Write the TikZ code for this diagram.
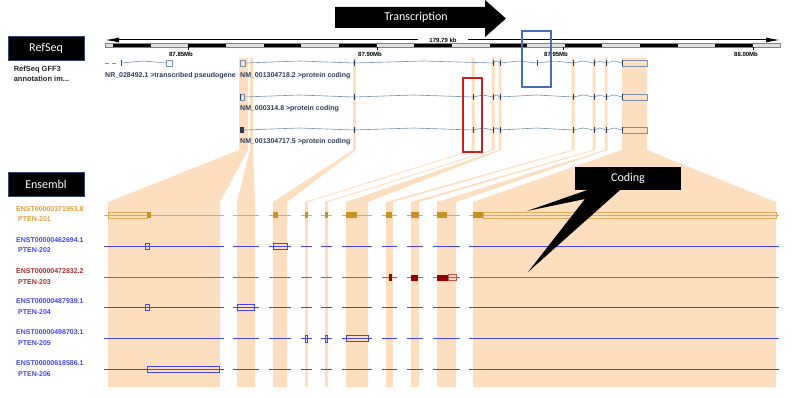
\documentclass[tikz,border=0pt]{standalone}
\usepackage{fontspec}
\setmainfont{Liberation Sans}
\newfontfamily\calibri{Carlito}
\usepackage{xcolor}
\usetikzlibrary{arrows.meta, positioning}

\definecolor{bandc}{RGB}{253,222,190}
\definecolor{tagedge}{RGB}{50,70,110}
\definecolor{refline}{RGB}{120,145,175}
\definecolor{refdark}{RGB}{45,60,85}
\definecolor{goldln}{RGB}{222,172,85}
\definecolor{goldfill}{RGB}{200,145,35}
\definecolor{goldtx}{RGB}{214,160,60}
\definecolor{blueln}{RGB}{70,70,230}
\definecolor{redln}{RGB}{190,80,80}
\definecolor{redfill}{RGB}{150,0,0}
\definecolor{redtx}{RGB}{165,45,45}
\definecolor{hired}{RGB}{205,30,30}
\definecolor{hiblue}{RGB}{70,110,185}
\definecolor{bargray}{RGB}{225,225,225}

\begin{document}
\begin{tikzpicture}[x=1pt, y=-1pt,
  band/.style={fill=bandc},
  tag/.style={fill=black, draw=tagedge, line width=0.8pt, minimum width=76pt,
              minimum height=24pt, inner sep=0pt, text=white,
              font=\calibri\fontsize{12}{14}\selectfont},
  info/.style={font=\fontsize{7.5}{10.5}\selectfont\bfseries, align=left,
              inner sep=0pt, text=black!85},
  mb/.style={font=\fontsize{6}{7}\selectfont\bfseries, inner sep=0pt, anchor=base},
  gene/.style={font=\fontsize{7}{8}\selectfont\bfseries, text=refdark,
              inner sep=0pt, anchor=base west},
  enst/.style={font=\fontsize{7}{8}\selectfont\bfseries, inner sep=0pt,
              anchor=base west, text=#1},
  intron/.style={draw=refline, line width=0.6pt},
  exon/.style={draw=refdark, line width=1pt},
  utr/.style={draw=refline, line width=0.7pt},
  track/.style={line width=1.3pt},
  hilite/.style={draw=#1, line width=2pt},
  arr/.style={-{Latex[length=14pt,width=5pt]}, line width=1pt}]
\useasboundingbox (0,0) rectangle (806,398);

% exon bands, refseq to ensembl
\foreach \ta/\tb/\ba/\bb in {239/248/108/220, 250/253/237/255, 353/356/273/287,
    471.5/474.5/305/308, 491.5/494.5/325/328, 498.5/501.5/346/368,
    571.5/574.5/386/393, 592.5/595.5/411/419, 604.5/607.5/437/456, 622/647/473/776}
  \fill[band] (\ta,58) -- (\tb,58) -- (\tb,150) -- (\bb,202) -- (\bb,387)
    -- (\ba,387) -- (\ba,202) -- (\ta,150) -- cycle;

% transcription arrow
\fill (335,7) -- (485,7) -- (485,0) -- (506,18.5) -- (485,37) -- (485,28) -- (335,28) -- cycle;
\node[text=white, font=\calibri\fontsize{12}{14}\selectfont] (transcription) at (416,17.5) {Transcription};

% scale bar
\coordinate (lend) at (105,40);
\coordinate (rend) at (780,40);
\node[mb, inner xsep=11pt] (kb) at (443,43) {179.79 kb};
\draw[arr] (kb.west |- lend) -- (lend);
\draw[arr] (kb.east |- rend) -- (rend);
\draw[draw=gray, fill=bargray, line width=0.5pt] (105,43.5) rectangle (780,47.5);
\foreach \k in {0,...,8}
  \fill (113+75.3*\k,44) rectangle ++(37.6,3);
\foreach \x/\lbl in {188/87.85Mb, 377/87.90Mb, 563/87.95Mb, 753/88.00Mb} {
  \draw[line width=0.6pt] (\x,47.5) -- (\x,50);
  \node[mb] (mb\x) at (\x-7,57) {\lbl};
}

% tags
\node[tag] (refseq) at (46,48) {RefSeq};
\node[info, below right=5pt and 6pt of refseq.south west] (refinfo) {RefSeq GFF3\\annotation im...};
\node[tag] (ensembl) at (46,184) {Ensembl};

% refseq transcripts
\draw[utr, dashed, dash pattern=on 4pt off 3pt] (105,63) -- (119,63);
\draw[exon] (121,60) -- (121,66);
\draw[intron] (121,63) -- (143,61) -- (166,63);
\draw[utr] (166,60) rectangle (172,66);
\node[gene] (nr) at (105,77.5) {NR\_028492.1 >transcribed pseudogene};

\draw[utr] (240,60) rectangle (245,66);
\foreach \a/\b in {245/354, 354/493, 493/500, 500/537, 537/573, 573/594, 594/606, 606/622}
  \draw[intron] (\a,63) -- ({(\a+\b)/2},61) -- (\b,63);
\foreach \x in {354,493,500,537,573,594,606}
  \draw[exon] (\x,60) -- (\x,66);
\node[gene] (nm718) at (240,77.5) {NM\_001304718.2 >protein coding};

\foreach \y in {97,130} {
  \foreach \a/\b in {244/354, 354/473, 473/493, 493/500, 500/573, 573/594, 594/606, 606/622}
    \draw[intron] (\a,\y) -- ({(\a+\b)/2},\y-2) -- (\b,\y);
  \foreach \x in {354,473,493,500,573,594,606}
    \draw[exon] (\x,\y-3) -- (\x,\y+3);
}
\draw[utr] (240,94) rectangle (244,100);
\draw[exon] (240.5,94) -- (240.5,100);
\fill[refdark] (240,127) rectangle (243.5,133);
\node[gene] (nm314) at (240,110.5) {NM\_000314.8 >protein coding};
\node[gene] (nm717) at (240,143.5) {NM\_001304717.5 >protein coding};
\foreach \y in {63,97,130} {
  \draw[utr] (622,\y-3) rectangle (647,\y+3);
  \draw[exon] (622,\y-3) -- (622,\y+3);
}

% ensembl transcripts
\begin{scope}[yshift=-0.5pt]
\foreach \y/\trk in {215/goldln, 246/blueln, 277/redln, 307/blueln, 338/blueln, 369/blueln} {
  \foreach \a/\b in {104/224, 233/259, 269/291, 301/312, 321/332, 342/372,
                     382/397, 407/423, 433/460, 469/779} {
    \draw[track, draw=\trk] (\a,\y) -- (\b,\y);
  }
}

% PTEN-201
\draw[goldln, line width=0.8pt] (108,212) rectangle (147,218);
\draw[goldln, line width=0.8pt] (483,212) rectangle (776,218);
\foreach \a/\b in {147/150.5, 273/278, 305/307.5, 325/327.5, 346/357, 386/392,
                   411/419, 437/447, 473/483}
  \fill[goldfill] (\a,212) rectangle (\b,218);
% PTEN-202
\draw[blueln, line width=0.8pt] (145,243) rectangle (149,249);
\draw[blueln, line width=0.8pt] (273,243) rectangle (287,249);
% PTEN-203
\fill[redfill] (389,273.5) rectangle (391.5,280.5);
\fill[redfill] (411,274) rectangle (418,280);
\fill[redfill] (437,274) rectangle (448,280);
\draw[redln, line width=0.8pt] (448,274) rectangle (456,280);
% PTEN-204
\draw[blueln, line width=0.8pt] (145,304) rectangle (149,310);
\draw[blueln, line width=0.8pt] (237,304) rectangle (254,310);
% PTEN-205
\draw[blueln, line width=0.8pt] (305,334.5) rectangle (307.5,341.5);
\draw[blueln, line width=0.8pt] (325,334.5) rectangle (327.5,341.5);
\draw[blueln, line width=0.8pt] (346,335) rectangle (368,341);
% PTEN-206
\draw[blueln, line width=0.8pt] (147,366) rectangle (219,372);
\end{scope}

\foreach \y/\id/\nm/\tc in {215/00000371953.8/201/goldtx, 246/00000462694.1/202/blueln,
    277/00000472832.2/203/redtx, 307/00000487939.1/204/blueln,
    338/00000498703.1/205/blueln, 369/00000618586.1/206/blueln} {
  \node[enst=\tc] (enst\nm) at (16,\y-3.5) {ENST\id};
  \node[enst=\tc] (pten\nm) at (18,\y+7) {PTEN-\nm};
}

% coding callout
\node[fill=black, text=white, minimum width=106pt, minimum height=23pt, inner sep=0pt,
      font=\calibri\fontsize{12}{14}\selectfont] (coding) at (628,178.5) {Coding};
\coordinate (tipa) at (527,211);
\coordinate (tipb) at (528,272);
\fill ([xshift=12pt]coding.south west) -- (tipa) -- (585,199) -- (tipb)
  -- ([xshift=45pt]coding.south west) -- cycle;

% highlight boxes
\draw[hilite=hired] (463,78) rectangle (482,152);
\draw[hilite=hiblue] (522,31) rectangle (551,87);
\end{tikzpicture}
\end{document}
